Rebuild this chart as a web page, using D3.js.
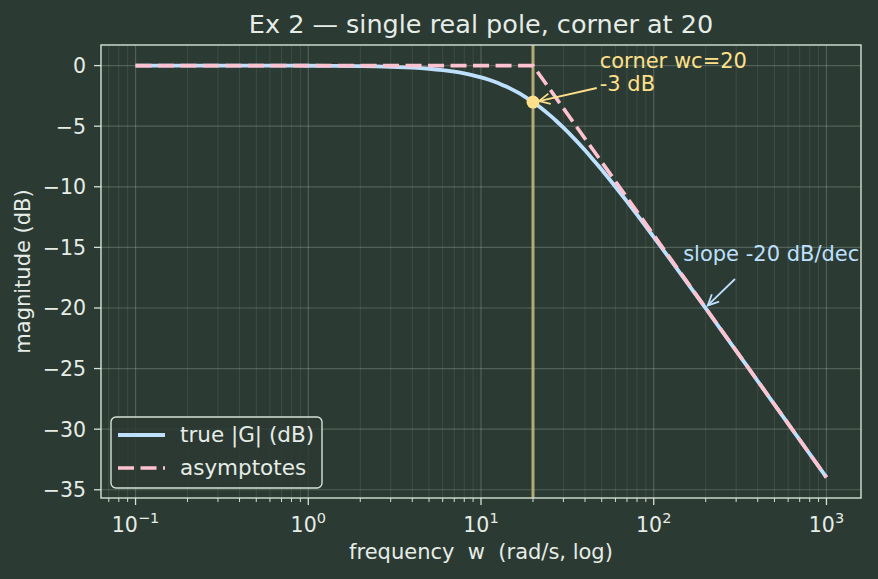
<!DOCTYPE html>
<meta charset="utf-8">
<html>
<head>
<script src="https://cdn.jsdelivr.net/npm/d3@7"></script>
<style>
  body { margin: 0; background: #2b3a33; }
  text { font-family: "DejaVu Sans", sans-serif; fill: #e6ece6; }
</style>
</head>
<body>
<svg id="chart"></svg>
<script>
// data
var freq = [0.1, 0.5, 1, 2, 3, 4, 5, 6, 7, 8, 9, 10, 11, 12, 13, 14, 15, 16, 17, 18, 20, 22, 25, 27, 30, 35, 40, 45, 50, 60, 70, 80, 100, 120, 150, 200, 250, 300, 400, 500, 700, 1000];
var magDb = [0, -0.003, -0.011, -0.043, -0.097, -0.17, -0.26, -0.37, -0.50, -0.645, -0.80, -0.97, -1.15, -1.34, -1.53, -1.73, -1.94, -2.15, -2.36, -2.58, -3.01, -3.44, -4.09, -4.51, -5.12, -6.09, -6.99, -7.83, -8.60, -10.0, -11.22, -12.30, -14.15, -15.68, -17.58, -20.04, -21.97, -23.54, -26.03, -27.97, -30.88, -33.98];
var asymFreq = [0.1, 20, 1000];
var asymDb = [0, 0, -33.98];
var cornerW = 20, cornerDb = -3.01;
var yTicks = [0, -5, -10, -15, -20, -25, -30, -35];
var xTicks = [0.1, 1, 10, 100, 1000];
var xTickExp = ["\u22121", "0", "1", "2", "3"];

var width = 878, height = 579;
var margin = {top: 45, right: 17, bottom: 81, left: 101};

var svg = d3.select("#chart").attr("width", width).attr("height", height);
svg.append("rect").attr("width", width).attr("height", height).attr("fill", "#2b3a33");

var x = d3.scaleLog().domain([Math.pow(10, -1.2), Math.pow(10, 3.2)]).range([margin.left, width - margin.right]);
var y = d3.scaleLinear().domain([-35.68, 1.7]).range([height - margin.bottom, margin.top]);

var gridCol = "#c9d8c9";
var plot = svg.append("g");

// minor vertical grid
var minor = [];
for (var e = -2; e <= 3; e++) for (var k = 2; k <= 9; k++) {
  var v = k * Math.pow(10, e);
  if (v > x.domain()[0] && v < x.domain()[1]) minor.push(v);
}
plot.selectAll(".mgrid").data(minor).enter().append("line")
  .attr("x1", d => x(d)).attr("x2", d => x(d))
  .attr("y1", margin.top).attr("y2", height - margin.bottom)
  .attr("stroke", gridCol).attr("stroke-opacity", 0.12).attr("stroke-width", 1);
plot.selectAll(".xgrid").data(xTicks).enter().append("line")
  .attr("x1", d => x(d)).attr("x2", d => x(d))
  .attr("y1", margin.top).attr("y2", height - margin.bottom)
  .attr("stroke", gridCol).attr("stroke-opacity", 0.25).attr("stroke-width", 1.2);
plot.selectAll(".ygrid").data(yTicks).enter().append("line")
  .attr("y1", d => y(d)).attr("y2", d => y(d))
  .attr("x1", margin.left).attr("x2", width - margin.right)
  .attr("stroke", gridCol).attr("stroke-opacity", 0.25).attr("stroke-width", 1.2);

// corner line
plot.append("line")
  .attr("x1", x(cornerW)).attr("x2", x(cornerW))
  .attr("y1", margin.top).attr("y2", height - margin.bottom)
  .attr("stroke", "#c9bd7e").attr("stroke-opacity", 0.85).attr("stroke-width", 3);

var line = d3.line().curve(d3.curveNatural);
plot.append("path")
  .attr("d", line(freq.map((f, i) => [x(f), y(magDb[i])])))
  .attr("fill", "none").attr("stroke", "#bde0fe").attr("stroke-width", 3.8);
plot.append("path")
  .attr("d", d3.line()(asymFreq.map((f, i) => [x(f), y(asymDb[i])])))
  .attr("fill", "none").attr("stroke", "#ffc2d1").attr("stroke-width", 3.6)
  .attr("stroke-dasharray", "16,6.5");

plot.append("circle").attr("cx", x(cornerW)).attr("cy", y(cornerDb)).attr("r", 6.5).attr("fill", "#ffe08a");

// annotations
function arrow(x1, y1, x2, y2, col) {
  var a = Math.atan2(y2 - y1, x2 - x1), L = 12, w = 0.45;
  plot.append("line").attr("x1", x1).attr("y1", y1).attr("x2", x2).attr("y2", y2)
    .attr("stroke", col).attr("stroke-width", 1.8);
  plot.append("path")
    .attr("d", "M" + (x2 - L * Math.cos(a - w)) + "," + (y2 - L * Math.sin(a - w)) +
      "L" + x2 + "," + y2 + "L" + (x2 - L * Math.cos(a + w)) + "," + (y2 - L * Math.sin(a + w)))
    .attr("fill", "none").attr("stroke", col).attr("stroke-width", 1.8);
}
plot.append("text").attr("x", x(50) - 2).attr("y", 68).style("font-size", "21px").style("fill", "#ffe08a")
  .text("corner wc=20");
plot.append("text").attr("x", x(50) - 2).attr("y", 91).style("font-size", "21px").style("fill", "#ffe08a")
  .text("-3 dB");
arrow(x(50) - 5, 88, x(cornerW) + 6, y(cornerDb) - 1, "#ffe08a");

plot.append("text").attr("x", x(150) - 1).attr("y", 261).style("font-size", "21px").style("fill", "#bde0fe")
  .text("slope -20 dB/dec");
arrow(735, 279, x(200) + 2, y(-20.04) - 3, "#bde0fe");

// spines
svg.append("rect").attr("x", margin.left).attr("y", margin.top)
  .attr("width", width - margin.right - margin.left).attr("height", height - margin.bottom - margin.top)
  .attr("fill", "none").attr("stroke", "#d6e2d6").attr("stroke-width", 1.4);

// ticks
var axCol = "#d6e2d6";
var bottom = height - margin.bottom;
svg.selectAll(".xt").data(xTicks).enter().append("line")
  .attr("x1", d => x(d)).attr("x2", d => x(d)).attr("y1", bottom).attr("y2", bottom + 7)
  .attr("stroke", axCol).attr("stroke-width", 1.3);
svg.selectAll(".xmt").data(minor).enter().append("line")
  .attr("x1", d => x(d)).attr("x2", d => x(d)).attr("y1", bottom).attr("y2", bottom + 4)
  .attr("stroke", axCol).attr("stroke-width", 1);
var xl = svg.selectAll(".xl").data(xTicks).enter().append("text")
  .attr("x", d => x(d)).attr("y", bottom + 34).attr("text-anchor", "middle").style("font-size", "20.5px");
xl.append("tspan").text("10");
xl.append("tspan").attr("dy", -9).style("font-size", "14.5px").text((d, i) => xTickExp[i]);

svg.selectAll(".yt").data(yTicks).enter().append("line")
  .attr("x1", margin.left - 7).attr("x2", margin.left).attr("y1", d => y(d)).attr("y2", d => y(d))
  .attr("stroke", axCol).attr("stroke-width", 1.3);
svg.selectAll(".yl").data(yTicks).enter().append("text")
  .attr("x", margin.left - 15).attr("y", d => y(d) + 7.5).attr("text-anchor", "end").style("font-size", "20.5px")
  .text(d => d3.format("d")(d).replace("-", "\u2212"));

// labels
svg.append("text").attr("x", (margin.left + width - margin.right) / 2).attr("y", 559)
  .attr("text-anchor", "middle").style("font-size", "21px").style("white-space", "pre")
  .text("frequency  w  (rad/s, log)");
svg.append("text").attr("transform", "translate(30," + ((margin.top + bottom) / 2) + ") rotate(-90)")
  .attr("text-anchor", "middle").style("font-size", "21px").text("magnitude (dB)");
svg.append("text").attr("x", (margin.left + width - margin.right) / 2).attr("y", 33)
  .attr("text-anchor", "middle").style("font-size", "25.5px").text("Ex 2 \u2014 single real pole, corner at 20");

// legend
var lg = svg.append("g").attr("transform", "translate(111,417)");
lg.append("rect").attr("width", 211).attr("height", 71).attr("rx", 5)
  .attr("fill", "#2b3a33").attr("fill-opacity", 0.85).attr("stroke", "#d6e2d6").attr("stroke-width", 1.4);
lg.append("line").attr("x1", 7).attr("x2", 54).attr("y1", 18).attr("y2", 18)
  .attr("stroke", "#bde0fe").attr("stroke-width", 3.8);
lg.append("line").attr("x1", 7).attr("x2", 54).attr("y1", 51).attr("y2", 51)
  .attr("stroke", "#ffc2d1").attr("stroke-width", 3.6).attr("stroke-dasharray", "16,6.5");
lg.append("text").attr("x", 69).attr("y", 25).style("font-size", "21.5px").text("true |G| (dB)");
lg.append("text").attr("x", 69).attr("y", 58).style("font-size", "21.5px").text("asymptotes");
</script>
</body>
</html>
